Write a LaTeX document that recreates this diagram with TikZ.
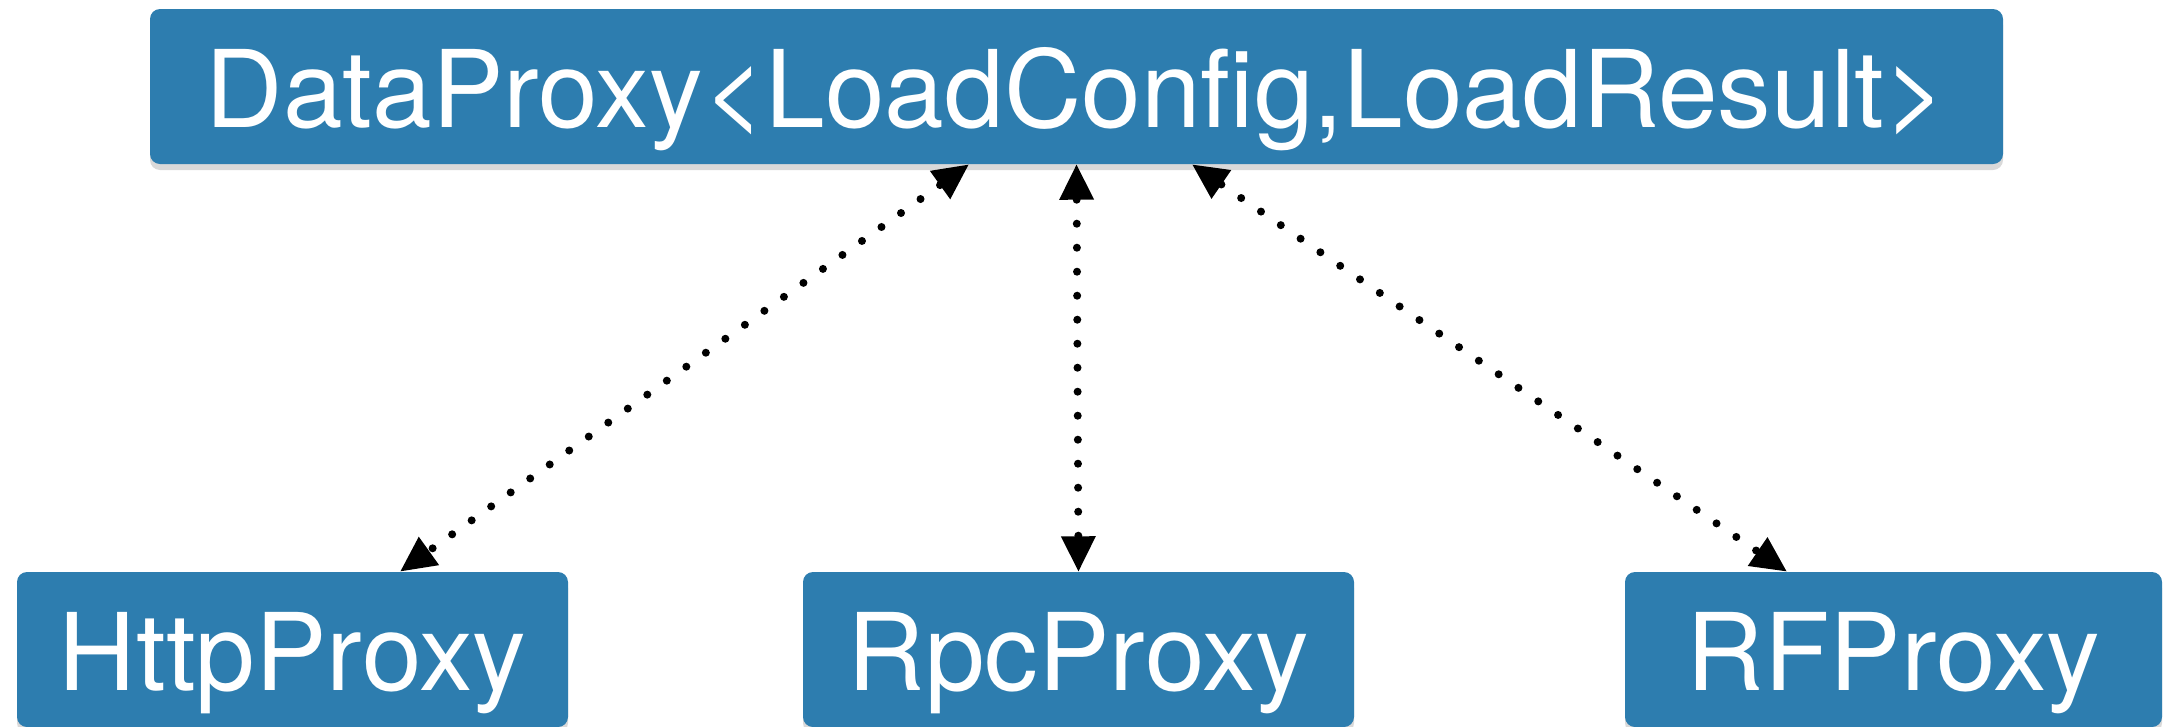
\documentclass[tikz,border=0pt]{standalone}
\usepackage{fontspec}
\setmainfont{TeX Gyre Heros}
\usetikzlibrary{arrows.meta,shadows}
\definecolor{proxyblue}{RGB}{45,125,175}

\begin{document}
\begin{tikzpicture}[
        proxy/.style = {rectangle, rounded corners=0.1cm, fill=proxyblue, text=white, inner sep=0pt,
                        font=\fontsize{30.5}{36}\selectfont, minimum height=1.55cm,
                        text height=0.81cm, text depth=0pt,
                        drop shadow={shadow xshift=0cm, shadow yshift=-0.06cm, opacity=0.3}},
        link/.style = {{Triangle[length=0.35cm, width=0.35cm, line width=0pt]}-{Triangle[length=0.35cm, width=0.35cm, line width=0pt]},
                       line width=0.08cm, line cap=round, dash pattern=on 0pt off 0.24cm}
        ]
        \useasboundingbox (0,0) rectangle (21.75,-7.27);

        \node (data) at (10.765,-0.865) [proxy, minimum width=18.53cm] {DataProxy<LoadConfig,LoadResult>};
        \node (http) at (2.925,-6.495)  [proxy, minimum width=5.51cm] {HttpProxy};
        \node (rpc) at (10.785,-6.495)  [proxy, minimum width=5.51cm] {RpcProxy};
        \node (rf) at (18.935,-6.495)   [proxy, minimum width=5.37cm] {RFProxy};

        \draw[link] ([xshift=-1.08cm]data.south) -- ([xshift=1.08cm]http.north);
        \draw[link] (data.south) -- (rpc.north);
        \draw[link] ([xshift=1.16cm]data.south) -- ([xshift=-1.07cm]rf.north);
    \end{tikzpicture}
\end{document}
